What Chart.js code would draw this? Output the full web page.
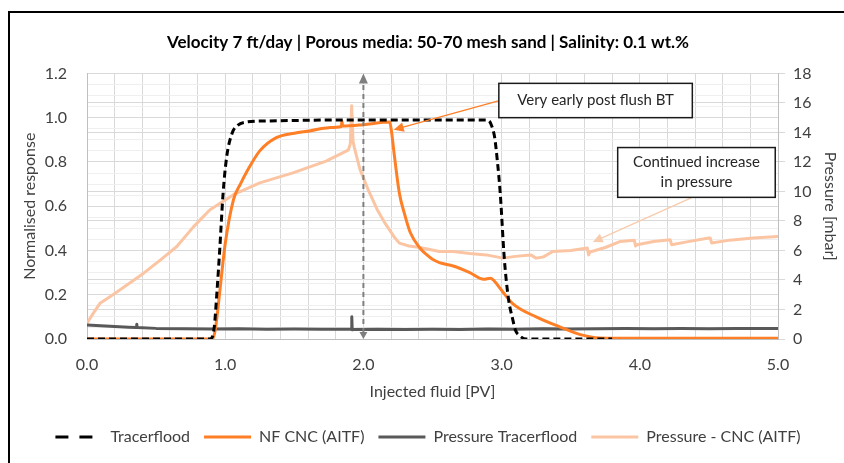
<!DOCTYPE html>
<html>
<head>
<meta charset="utf-8">
<script src="https://cdn.jsdelivr.net/npm/chart.js@4.4.0/dist/chart.umd.min.js"></script>
<style>
  html, body { margin: 0; padding: 0; background: #fff; overflow: hidden; }
  #wrap { position: relative; width: 844px; height: 463px; }
  #frame { position: absolute; left: 8px; top: 11px; width: 900px; height: 500px; border: 2px solid #000; box-sizing: border-box; pointer-events: none; }
  canvas { position: absolute; left: 0; top: 0; }
</style>
</head>
<body>
<div id="wrap">
  <canvas id="chart" width="844" height="463"></canvas>
  <div id="frame"></div>
</div>
<script>
// Tracerflood (normalised)
const tracerX = [0, 0.89, 0.92, 0.94, 0.96, 0.985, 1.01, 1.05, 1.09, 1.15, 1.3, 2.0, 2.88, 2.91, 2.93, 2.95, 2.97, 2.99, 3.02, 3.05, 3.08, 3.10, 3.13, 3.18, 3.5, 3.8];
const tracerY = [0, 0, 0.05, 0.21, 0.40, 0.66, 0.82, 0.93, 0.965, 0.98, 0.985, 0.99, 0.99, 0.985, 0.96, 0.91, 0.80, 0.66, 0.36, 0.18, 0.09, 0.04, 0.015, 0, 0, 0];

// NF CNC (AITF) (normalised)
const cncX = [0, 0.91, 0.93, 0.96, 1.0, 1.06, 1.11, 1.16, 1.25, 1.37, 1.5, 1.61, 1.75, 1.84, 1.845, 1.85, 2.0, 2.19, 2.205, 2.22, 2.26, 2.3, 2.34, 2.41, 2.46, 2.5, 2.55, 2.65, 2.77, 2.87, 2.92, 2.95, 3.0, 3.08, 3.25, 3.42, 3.57, 3.71, 4.0, 5.0];
const cncY = [0, 0, 0.05, 0.21, 0.43, 0.63, 0.70, 0.76, 0.85, 0.91, 0.93, 0.94, 0.955, 0.96, 0.985, 0.962, 0.968, 0.98, 0.93, 0.85, 0.66, 0.56, 0.48, 0.41, 0.38, 0.36, 0.345, 0.33, 0.30, 0.27, 0.275, 0.26, 0.22, 0.16, 0.10, 0.055, 0.02, 0.005, 0.003, 0.003];

// Pressure Tracerflood [mbar]
const pTracerX = [0, 0.1, 0.2, 0.3, 0.357, 0.36, 0.363, 0.5, 0.7, 0.9, 1.1, 1.3, 1.5, 1.7, 1.9, 1.913, 1.916, 1.919, 1.93, 2.1, 2.3, 2.5, 2.7, 2.9, 3.1, 3.3, 3.5, 3.7, 3.9, 4.1, 4.3, 4.5, 4.7, 4.9, 5.0];
const pTracerY = [0.95, 0.9, 0.85, 0.8, 0.78, 1.0, 0.78, 0.72, 0.7, 0.68, 0.7, 0.66, 0.67, 0.66, 0.66, 0.66, 1.5, 0.62, 0.64, 0.66, 0.64, 0.66, 0.65, 0.68, 0.66, 0.7, 0.68, 0.7, 0.72, 0.7, 0.72, 0.7, 0.72, 0.72, 0.72];

// Pressure - CNC (AITF) [mbar]
const pCncX = [0, 0.046, 0.094, 0.166, 0.25, 0.41, 0.53, 0.65, 0.77, 0.89, 1.06, 1.25, 1.49, 1.73, 1.89, 1.905, 1.915, 1.925, 1.935, 1.975, 2.04, 2.10, 2.16, 2.22, 2.26, 2.33, 2.41, 2.55, 2.65, 2.77, 2.89, 3.01, 3.1, 3.21, 3.25, 3.3, 3.37, 3.5, 3.62, 3.63, 3.64, 3.75, 3.86, 3.96, 3.97, 3.98, 4.10, 4.22, 4.23, 4.35, 4.50, 4.51, 4.52, 4.65, 4.82, 5.0];
const pCncY = [1.07, 1.75, 2.42, 2.87, 3.4, 4.46, 5.35, 6.27, 7.6, 8.76, 9.78, 10.58, 11.26, 12.05, 12.8, 13.2, 15.8, 13.4, 12.95, 11.5, 10.0, 8.76, 7.8, 6.95, 6.5, 6.3, 6.2, 5.93, 5.93, 5.8, 5.7, 5.48, 5.6, 5.7, 5.48, 5.55, 5.93, 6.0, 6.16, 5.7, 5.9, 6.2, 6.61, 6.7, 6.3, 6.39, 6.61, 6.72, 6.39, 6.6, 6.84, 6.84, 6.5, 6.7, 6.84, 6.95];

const seriesNames = ['Tracerflood', 'NF CNC (AITF)', 'Pressure Tracerflood', 'Pressure - CNC (AITF)'];
const xTickLabels = ['0.0', '1.0', '2.0', '3.0', '4.0', '5.0'];

const titleText = 'Velocity 7 ft/day | Porous media: 50-70 mesh sand | Salinity: 0.1 wt.%';
const note1 = ['Very early post flush BT'];
const note2 = ['Continued increase', 'in pressure'];

function pts(xs, ys) {
    return xs.map((x, i) => ({ x: x, y: ys[i] }));
}

const FONT = 'Lato';
const TXT = '#404040';

function drawArrow(ctx, x1, y1, x2, y2, color, width, head) {
    const ang = Math.atan2(y2 - y1, x2 - x1);
    ctx.save();
    ctx.strokeStyle = color;
    ctx.fillStyle = color;
    ctx.lineWidth = width;
    ctx.beginPath();
    ctx.moveTo(x1, y1);
    ctx.lineTo(x2 - Math.cos(ang) * head * 0.8, y2 - Math.sin(ang) * head * 0.8);
    ctx.stroke();
    ctx.beginPath();
    ctx.moveTo(x2, y2);
    ctx.lineTo(x2 - head * Math.cos(ang - 0.45), y2 - head * Math.sin(ang - 0.45));
    ctx.lineTo(x2 - head * Math.cos(ang + 0.45), y2 - head * Math.sin(ang + 0.45));
    ctx.closePath();
    ctx.fill();
    ctx.restore();
}

function drawBox(ctx, left, top, right, bottom, lines) {
    ctx.save();
    ctx.fillStyle = '#fff';
    ctx.fillRect(left, top, right - left, bottom - top);
    ctx.strokeStyle = '#1a1a1a';
    ctx.lineWidth = 1.5;
    ctx.strokeRect(left, top, right - left, bottom - top);
    ctx.fillStyle = '#262626';
    ctx.font = '15px ' + FONT;
    ctx.textAlign = 'center';
    ctx.textBaseline = 'middle';
    const cx = (left + right) / 2;
    const lh = 20;
    const cy = (top + bottom) / 2 - (lines.length - 1) * lh / 2;
    lines.forEach((t, i) => ctx.fillText(t, cx, cy + i * lh));
    ctx.restore();
}

const notesPlugin = {
    id: 'notes',
    afterDatasetsDraw(chart) {
        const ctx = chart.ctx;
        const xs = chart.scales.x;
        const ys = chart.scales.y;
        const X = v => xs.getPixelForValue(v);
        const Y = v => ys.getPixelForValue(v);

        // vertical dashed double arrow at 2.0 PV
        const ax = X(2.0);
        ctx.save();
        ctx.strokeStyle = '#7f7f7f';
        ctx.fillStyle = '#7f7f7f';
        ctx.lineWidth = 2;
        ctx.setLineDash([5, 4]);
        ctx.beginPath();
        ctx.moveTo(ax, Y(0) - 6);
        ctx.lineTo(ax, Y(1.2) + 8);
        ctx.stroke();
        ctx.setLineDash([]);
        ctx.beginPath();
        ctx.moveTo(ax, Y(1.2));
        ctx.lineTo(ax - 4.5, Y(1.2) + 10);
        ctx.lineTo(ax + 4.5, Y(1.2) + 10);
        ctx.closePath();
        ctx.fill();
        ctx.beginPath();
        ctx.moveTo(ax, Y(0));
        ctx.lineTo(ax - 4, Y(0) - 7);
        ctx.lineTo(ax + 4, Y(0) - 7);
        ctx.closePath();
        ctx.fill();
        ctx.restore();

        // arrows from notes
        drawArrow(ctx, X(2.99), Y(1.078), X(2.22), Y(0.945), '#ff7f27', 1.3, 11);
        drawArrow(ctx, X(4.38), Y(0.64), X(3.66), Y(0.438), '#f8cbad', 1.3, 11);

        drawBox(ctx, X(2.98), Y(1.155), X(4.38), Y(1.0), note1);
        drawBox(ctx, X(3.84), Y(0.865), X(4.98), Y(0.64), note2);
    }
};

const isMult = (v, s) => Math.abs(v / s - Math.round(v / s)) < 1e-6;

new Chart(document.getElementById('chart'), {
    type: 'line',
    data: {
        datasets: [
            {
                label: seriesNames[0],
                data: pts(tracerX, tracerY),
                borderColor: '#000',
                backgroundColor: '#000',
                borderWidth: 3,
                borderDash: [7, 4],
                cubicInterpolationMode: 'monotone',
                pointRadius: 0,
                yAxisID: 'y'
            },
            {
                label: seriesNames[1],
                data: pts(cncX, cncY),
                borderColor: '#ff7f27',
                backgroundColor: '#ff7f27',
                borderWidth: 3,
                cubicInterpolationMode: 'monotone',
                pointRadius: 0,
                yAxisID: 'y'
            },
            {
                label: seriesNames[2],
                data: pts(pTracerX, pTracerY),
                borderColor: '#595959',
                backgroundColor: '#595959',
                borderWidth: 3,
                borderJoinStyle: 'round',
                tension: 0,
                pointRadius: 0,
                yAxisID: 'y1'
            },
            {
                label: seriesNames[3],
                data: pts(pCncX, pCncY),
                borderColor: '#fbc5a3',
                backgroundColor: '#fbc5a3',
                borderWidth: 3,
                borderJoinStyle: 'round',
                tension: 0,
                pointRadius: 0,
                yAxisID: 'y1'
            }
        ]
    },
    options: {
        responsive: false,
        animation: false,
        layout: { padding: { left: 12, right: 0, top: 0, bottom: 8 } },
        scales: {
            x: {
                type: 'linear',
                min: 0,
                max: 5,
                ticks: {
                    stepSize: 0.2,
                    autoSkip: false,
                    maxRotation: 0,
                    color: TXT,
                    font: { family: FONT, size: 16 },
                    padding: 16,
                    callback: v => isMult(v, 1) ? xTickLabels[Math.round(v)] : ''
                },
                grid: { color: '#d9d9d9', drawTicks: false },
                border: { color: '#bfbfbf' },
                title: { display: true, text: 'Injected fluid [PV]', color: TXT, font: { family: FONT, size: 16 }, padding: { top: 0, bottom: 14 } },
                afterFit: s => { s.height = 76; }
            },
            y: {
                position: 'left',
                min: 0,
                max: 1.2,
                ticks: {
                    stepSize: 0.05,
                    autoSkip: false,
                    color: TXT,
                    font: { family: FONT, size: 16 },
                    padding: 20,
                    callback: v => isMult(v, 0.2) ? v.toFixed(1) : ''
                },
                grid: {
                    drawTicks: false,
                    color: c => isMult(c.tick.value, 0.2) ? '#d9d9d9' : '#efefef'
                },
                border: { color: '#bfbfbf' },
                title: { display: true, text: 'Normalised response', color: TXT, font: { family: FONT, size: 16 }, padding: { top: 8, bottom: 0 } },
                afterFit: s => { s.width = 75; }
            },
            y1: {
                position: 'right',
                min: 0,
                max: 18,
                ticks: {
                    stepSize: 2,
                    color: TXT,
                    font: { family: FONT, size: 16 },
                    padding: 8
                },
                grid: { color: '#d9d9d9', tickLength: 7, drawOnChartArea: true },
                border: { color: '#bfbfbf' },
                title: { display: true, text: 'Pressure [mbar]', color: TXT, font: { family: FONT, size: 16 }, padding: { top: 4, bottom: 0 } },
                afterFit: s => { s.width = 66; }
            }
        },
        plugins: {
            title: {
                display: true,
                text: titleText,
                color: '#000',
                font: { family: FONT, size: 17, weight: 'bold' },
                padding: { top: 32, bottom: 21 }
            },
            legend: {
                position: 'bottom',
                labels: {
                    usePointStyle: true,
                    pointStyle: 'line',
                    pointStyleWidth: 47,
                    color: TXT,
                    font: { family: FONT, size: 16 },
                    padding: 14,
                    generateLabels: chart => {
                        const items = Chart.defaults.plugins.legend.labels.generateLabels(chart);
                        items.forEach(it => {
                            it.lineWidth = 3;
                            if (it.datasetIndex === 0) it.lineDash = [13, 11];
                        });
                        return items;
                    }
                }
            },
            tooltip: { enabled: false }
        }
    },
    plugins: [notesPlugin]
});
</script>
</body>
</html>
